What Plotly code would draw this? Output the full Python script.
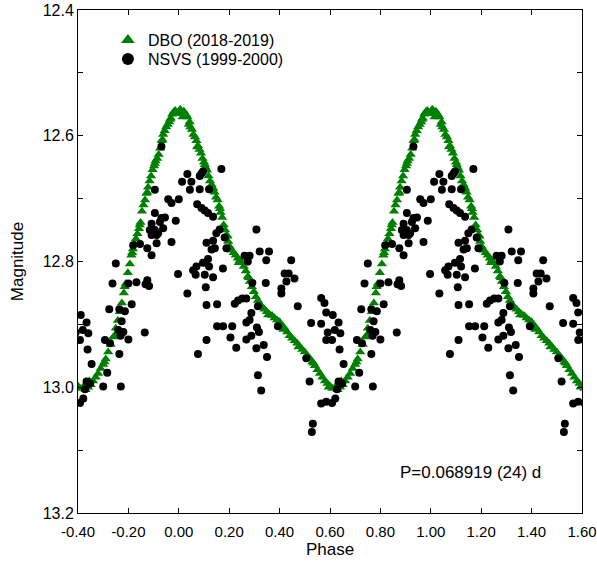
import numpy as np
import plotly.graph_objects as go

# DBO (2018-2019) light curve, one cycle (phase 0..1)
dbo_phase = [0.000, 0.006, 0.012, 0.020, 0.028, 0.034, 0.040, 0.046, 0.052, 0.058,
             0.064, 0.070, 0.076, 0.082, 0.088, 0.094, 0.100, 0.106, 0.112, 0.118,
             0.124, 0.130, 0.136, 0.142, 0.148, 0.154, 0.160, 0.166, 0.172, 0.178,
             0.184, 0.190, 0.196, 0.202, 0.210, 0.218, 0.226, 0.234, 0.242, 0.250,
             0.258, 0.266, 0.274, 0.282, 0.290, 0.298, 0.306, 0.314, 0.322, 0.330,
             0.340, 0.350, 0.360, 0.370, 0.380, 0.390, 0.400, 0.410, 0.420, 0.430,
             0.440, 0.450, 0.460, 0.470, 0.480, 0.490, 0.500, 0.510, 0.520, 0.530,
             0.540, 0.550, 0.560, 0.570, 0.580, 0.590, 0.600, 0.610, 0.620, 0.630,
             0.640, 0.650, 0.660, 0.670, 0.680, 0.690, 0.700, 0.710, 0.720, 0.730,
             0.740, 0.750, 0.758, 0.766, 0.774, 0.782, 0.790, 0.798, 0.806, 0.812,
             0.818, 0.824, 0.830, 0.836, 0.842, 0.848, 0.854, 0.860, 0.866, 0.872,
             0.878, 0.884, 0.890, 0.896, 0.902, 0.908, 0.914, 0.920, 0.926, 0.932,
             0.938, 0.944, 0.950, 0.956, 0.962, 0.968, 0.974, 0.980, 0.986, 0.992,
             0.015, 0.043, 0.073, 0.103, 0.133, 0.163, 0.193, 0.238, 0.278, 0.318,
             0.355, 0.415, 0.475, 0.535, 0.595, 0.645, 0.705, 0.745, 0.785, 0.815,
             0.845, 0.875, 0.905, 0.935, 0.965]
dbo_mag = [12.562, 12.558, 12.565, 12.561, 12.566, 12.570, 12.582, 12.586, 12.590, 12.598,
           12.602, 12.608, 12.616, 12.622, 12.628, 12.636, 12.642, 12.650, 12.655, 12.664,
           12.672, 12.678, 12.684, 12.690, 12.698, 12.702, 12.712, 12.722, 12.730, 12.742,
           12.750, 12.758, 12.768, 12.776, 12.782, 12.786, 12.790, 12.795, 12.798, 12.802,
           12.808, 12.815, 12.824, 12.832, 12.840, 12.848, 12.856, 12.862, 12.868, 12.872,
           12.876, 12.880, 12.884, 12.886, 12.890, 12.893, 12.896, 12.902, 12.906, 12.912,
           12.918, 12.922, 12.926, 12.930, 12.935, 12.940, 12.944, 12.950, 12.954, 12.960,
           12.966, 12.972, 12.978, 12.984, 12.990, 12.994, 12.998, 13.002, 13.000, 13.004,
           13.000, 12.996, 12.990, 12.984, 12.978, 12.970, 12.964, 12.955, 12.944, 12.932,
           12.920, 12.906, 12.894, 12.880, 12.866, 12.850, 12.835, 12.818, 12.804, 12.790,
           12.780, 12.772, 12.764, 12.756, 12.748, 12.738, 12.720, 12.710, 12.702, 12.692,
           12.682, 12.672, 12.664, 12.654, 12.648, 12.640, 12.636, 12.630, 12.620, 12.608,
           12.598, 12.592, 12.586, 12.582, 12.578, 12.572, 12.566, 12.562, 12.560, 12.564,
           12.570, 12.578, 12.618, 12.646, 12.682, 12.716, 12.760, 12.802, 12.826, 12.868,
           12.885, 12.908, 12.936, 12.962, 13.000, 12.990, 12.960, 12.918, 12.840, 12.786,
           12.742, 12.690, 12.644, 12.606, 12.574]

# NSVS (1999-2000) observations, one cycle (phase 0..1)
nsvs_phase = [0.000, 0.013, 0.034, 0.034, 0.044, 0.050, 0.057, 0.067, 0.070, 0.073,
              0.076, 0.083, 0.083, 0.090, 0.090, 0.096, 0.096, 0.103, 0.103, 0.107,
              0.110, 0.110, 0.110, 0.116, 0.116, 0.120, 0.120, 0.130, 0.136, 0.136,
              0.136, 0.143, 0.149, 0.152, 0.152, 0.162, 0.169, 0.175, 0.176, 0.182,
              0.189, 0.205, 0.212, 0.222, 0.228, 0.235, 0.252, 0.261, 0.268, 0.268,
              0.268, 0.274, 0.281, 0.281, 0.288, 0.288, 0.292, 0.308, 0.308, 0.310,
              0.314, 0.314, 0.318, 0.321, 0.327, 0.337, 0.345, 0.347, 0.350, 0.358,
              0.393, 0.407, 0.407, 0.420, 0.427, 0.436, 0.446, 0.459, 0.472, 0.506,
              0.519, 0.525, 0.528, 0.532, 0.565, 0.565, 0.565, 0.578, 0.585, 0.585,
              0.585, 0.591,
              0.608, 0.611, 0.619, 0.621, 0.608, 0.628, 0.634, 0.634, 0.638, 0.641,
              0.648, 0.654, 0.700, 0.707, 0.716, 0.724, 0.727, 0.737, 0.750, 0.760,
              0.764, 0.764, 0.769, 0.770, 0.773, 0.780, 0.786, 0.800, 0.800, 0.813,
              0.819, 0.832, 0.846, 0.865, 0.868, 0.875, 0.875, 0.882, 0.885, 0.892,
              0.892, 0.892, 0.905, 0.905, 0.905, 0.912, 0.912, 0.918, 0.925, 0.931,
              0.931, 0.938, 0.945, 0.958, 0.971, 0.971, 0.988, 0.997]
nsvs_mag = [12.701, 12.673, 12.661, 12.851, 12.686, 12.673, 12.814, 12.821, 12.808, 12.709,
            12.947, 12.664, 12.685, 12.660, 12.715, 12.657, 12.802, 12.719, 12.821, 12.841,
            12.770, 12.869, 12.925, 12.723, 12.796, 12.685, 12.808, 12.781, 12.729, 12.767,
            12.825, 12.779, 12.755, 12.868, 12.903, 12.749, 12.653, 12.811, 12.903, 12.762,
            12.779, 12.921, 12.903, 12.867, 12.937, 12.862, 12.859, 12.791, 12.859, 12.897,
            12.924, 12.800, 12.791, 12.893, 12.882, 12.918, 12.834, 12.749, 12.938, 12.905,
            12.871, 12.981, 12.912, 12.784, 13.005, 12.933, 12.834, 12.798, 12.952, 12.784,
            12.903, 12.843, 12.851, 12.819, 12.832, 12.819, 12.798, 12.827, 12.871, 12.954,
            12.991, 12.898, 13.071, 13.058, 12.858, 12.899, 13.026, 12.866, 12.881, 12.925,
            13.023, 12.913,
            12.925, 12.885, 12.909, 13.018, 13.025, 13.003, 12.897, 12.991, 12.940, 12.914,
            12.994, 12.963, 12.999, 12.925, 12.977, 12.876, 12.930, 12.835, 12.803, 12.909,
            12.876, 12.947, 12.918, 12.999, 12.895, 12.912, 12.879, 12.835, 12.924, 12.868,
            12.774, 12.833, 12.772, 12.913, 12.836, 12.830, 12.779, 12.839, 12.750, 12.740,
            12.758, 12.790, 12.686, 12.750, 12.723, 12.758, 12.771, 12.755, 12.737, 12.617,
            12.731, 12.747, 12.730, 12.701, 12.707, 12.769, 12.735, 12.820]

x_tickvals = [-0.4, -0.2, 0.0, 0.2, 0.4, 0.6, 0.8, 1.0, 1.2, 1.4, 1.6]
x_ticktext = ["-0.40", "-0.20", "0.00", "0.20", "0.40", "0.60", "0.80", "1.00", "1.20", "1.40", "1.60"]
y_tickvals = [12.4, 12.6, 12.8, 13.0, 13.2]
y_ticktext = ["12.4", "12.6", "12.8", "13.0", "13.2"]
y_minor = [12.5, 12.7, 12.9, 13.1]

X_MIN, X_MAX = -0.4, 1.6


def fold(ph, mg):
    ph = np.asarray(ph)
    mg = np.asarray(mg)
    xs, ys = [], []
    for s in (-1, 0, 1):
        p = ph + s
        m = (p >= X_MIN - 0.01) & (p <= X_MAX + 0.01)
        xs.append(p[m])
        ys.append(mg[m])
    return np.concatenate(xs), np.concatenate(ys)


dx, dy = fold(dbo_phase, dbo_mag)
nx, ny = fold(nsvs_phase, nsvs_mag)

FONT = "Liberation Sans, Arial, sans-serif"

fig = go.Figure()
fig.add_trace(go.Scatter(x=dx, y=dy, mode="markers", name="DBO (2018-2019)",
                         legend="legend",
                         marker=dict(symbol="triangle-up", size=9, color="#008000",
                                     line=dict(width=0))))
fig.add_trace(go.Scatter(x=nx, y=ny, mode="markers", name="NSVS (1999-2000)",
                         legend="legend2",
                         marker=dict(symbol="circle", size=8, color="black",
                                     line=dict(width=0))))

axis_common = dict(showline=True, linecolor="black", linewidth=1, mirror="allticks",
                   ticks="inside", ticklen=5, tickcolor="black", showgrid=False,
                   zeroline=False, automargin=False)

fig.update_xaxes(range=[X_MIN, X_MAX], tickmode="array", tickvals=x_tickvals,
                 ticktext=x_ticktext, ticklabelstandoff=5,
                 tickfont=dict(family=FONT, size=15, color="black"),
                 title=dict(text="Phase", font=dict(family=FONT, size=17, color="black"),
                            standoff=3),
                 **axis_common)
fig.update_yaxes(range=[13.2, 12.4], tickmode="array", tickvals=y_tickvals,
                 ticktext=y_ticktext,
                 tickfont=dict(family=FONT, size=16, color="black"),
                 minor=dict(tickvals=y_minor, ticks="inside", ticklen=5,
                            tickcolor="black"),
                 title=dict(text="Magnitude", font=dict(family=FONT, size=17, color="black"),
                            standoff=14),
                 **axis_common)

fig.add_annotation(x=0.779, y=(513 - 472) / 503, xref="paper", yref="paper",
                   xanchor="center", yanchor="middle",
                   text="P=0.068919 (24) d", showarrow=False,
                   font=dict(family=FONT, size=17, color="black"))

leg_common = dict(xanchor="left", yanchor="middle", bgcolor="rgba(0,0,0,0)",
                  font=dict(family=FONT, size=16, color="black"), itemsizing="constant")
fig.update_layout(
    width=597, height=563,
    margin=dict(l=78, r=15, t=10, b=50, autoexpand=False),
    plot_bgcolor="white", paper_bgcolor="white",
    showlegend=True,
    legend=dict(x=0.0594, y=(513 - 40) / 503, **leg_common),
    legend2=dict(x=0.0594, y=(513 - 59) / 503, **leg_common),
    font=dict(family=FONT, color="black"),
)

fig.write_html("out.html", config={"displayModeBar": False},
               post_script="document.body.style.margin='0';document.body.style.padding='0';")
